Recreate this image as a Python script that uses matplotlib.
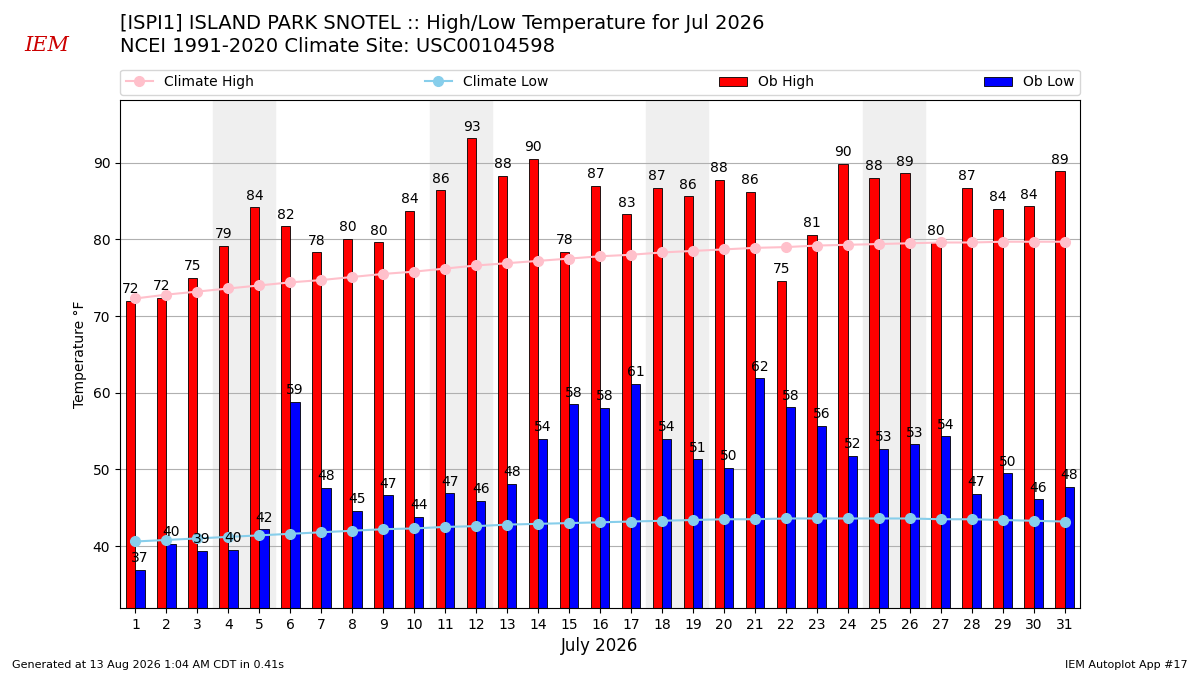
import matplotlib
matplotlib.use("Agg")
import matplotlib.pyplot as plt
import numpy as np

days = list(range(1, 32))
ob_high = [72,72.4,75,79.2,84.2,81.7,78.3,80.1,79.6,83.7,86.4,93.2,88.3,90.5,78.4,87,83.3,86.7,85.6,87.8,86.2,74.6,80.6,89.9,88,88.6,79.6,86.7,84,84.3,88.9]
ob_low = [36.9,40.3,39.4,39.5,42.2,58.8,47.6,44.6,46.6,43.8,46.9,45.9,48.1,54,58.5,58,61.2,54,51.3,50.2,61.9,58.1,55.7,51.8,52.7,53.3,54.3,46.8,49.5,46.1,47.7]
clim_high = [72.3,72.8,73.2,73.6,74.0,74.4,74.7,75.1,75.5,75.8,76.2,76.6,76.9,77.2,77.5,77.8,78.0,78.3,78.5,78.7,78.9,79.0,79.2,79.3,79.4,79.5,79.6,79.6,79.7,79.7,79.7]
clim_low = [40.6,40.8,41.0,41.2,41.4,41.6,41.8,42.0,42.2,42.3,42.5,42.6,42.8,42.9,43.0,43.1,43.2,43.3,43.4,43.5,43.5,43.6,43.6,43.6,43.6,43.6,43.5,43.5,43.4,43.3,43.2]
weekends = [(4,5),(11,12),(18,19),(25,26)]

fig = plt.figure(figsize=(12,6.75), dpi=100)
ax = fig.add_axes([0.1, 0.099, 0.8, 0.753])
x = np.array(days)
for a,b in weekends:
    ax.axvspan(a-0.5, b+0.5, color="#efefef", zorder=0)
ax.grid(axis="y", color="#b0b0b0", zorder=1)
ax.set_axisbelow(True)
hb = ax.bar(x-0.15, ob_high, width=0.3, color="red", edgecolor="k", linewidth=0.6, label="Ob High", zorder=2)
lb = ax.bar(x+0.15, ob_low, width=0.3, color="blue", edgecolor="k", linewidth=0.6, label="Ob Low", zorder=2)
for xi, v in zip(x, ob_high):
    ax.text(xi-0.15, v+0.6, f"{v:.0f}", ha="center", va="bottom", fontsize=10, zorder=4)
for xi, v in zip(x, ob_low):
    ax.text(xi+0.15, v+0.6, f"{v:.0f}", ha="center", va="bottom", fontsize=10, zorder=4)
ch, = ax.plot(x, clim_high, "-o", color="pink", markersize=7, label="Climate High", zorder=3)
cl, = ax.plot(x, clim_low, "-o", color="skyblue", markersize=7, label="Climate Low", zorder=3)
ax.set_xlim(0.5, 31.5)
ax.set_ylim(31.9, 98.2)
ax.set_xticks(days)
ax.set_yticks([40,50,60,70,80,90])
ax.tick_params(labelsize=10)
ax.set_xlabel("July 2026", fontsize=12)
ax.set_ylabel("Temperature °F", fontsize=10)
ax.legend(handles=[ch, cl, hb, lb], loc="lower left", bbox_to_anchor=(0, 1.01, 1, 0.1),
          ncol=4, mode="expand", fontsize=10, borderaxespad=0)
fig.text(0.1, 0.951, "[ISPI1] ISLAND PARK SNOTEL :: High/Low Temperature for Jul 2026", fontsize=14, va="bottom")
fig.text(0.1, 0.917, "NCEI 1991-2020 Climate Site: USC00104598", fontsize=14, va="bottom")
fig.text(0.02, 0.925, "IEM", color="#cc0000", fontsize=15, style="italic", family="serif")
fig.text(0.01, 0.01, "Generated at 13 Aug 2026 1:04 AM CDT in 0.41s", fontsize=8)
fig.text(0.99, 0.01, "IEM Autoplot App #17", fontsize=8, ha="right")
fig.savefig("out.png")
